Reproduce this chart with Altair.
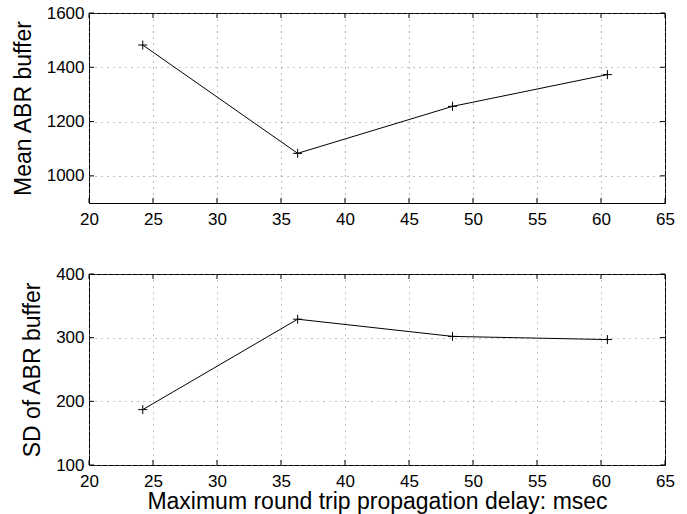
import altair as alt
import pandas as pd

delay = [24.2, 36.3, 48.4, 60.5]
mean_buf = [1482, 1083, 1256, 1373]
sd_buf = [187, 329, 302, 297]
x_ticks = [20, 25, 30, 35, 40, 45, 50, 55, 60, 65]
mean_ticks = [1000, 1200, 1400, 1600]
sd_ticks = [100, 200, 300, 400]

W = 576
FONT = "Liberation Sans"
PLUS = "M-1,0L1,0M0,-1L0,1"
TL = 5


def panel(vals, domain, yticks, ytitle, xtitle, H):
    df = pd.DataFrame({"x": delay, "y": vals})
    xs = alt.Scale(domain=[20, 65], nice=False, zero=False)
    ys = alt.Scale(domain=domain, nice=False, zero=False)
    xaxis = alt.Axis(values=x_ticks, title=xtitle, grid=True, ticks=False,
                     domain=False, labelPadding=8, titlePadding=1,
                     labelFlush=False, format="d")
    yaxis = alt.Axis(values=yticks, title=ytitle, grid=True, ticks=False,
                     domain=False, labelPadding=5, titlePadding=11,
                     labelFlush=False, format="d")
    X = alt.X("x:Q", scale=xs, axis=xaxis)
    Y = alt.Y("y:Q", scale=ys, axis=yaxis)
    line = alt.Chart(df).mark_line(color="black", strokeWidth=1).encode(x=X, y=Y)
    pts = alt.Chart(df).mark_point(shape=PLUS, size=81, filled=False,
                                   color="black", strokeWidth=1, opacity=1).encode(x=X, y=Y)
    xt = pd.DataFrame({"x": x_ticks})
    yt = pd.DataFrame({"y": yticks})
    bt = alt.Chart(xt).mark_rule(color="black", strokeWidth=1).encode(
        x=X, y=alt.value(H), y2=alt.value(H - TL))
    tt = alt.Chart(xt).mark_rule(color="black", strokeWidth=1).encode(
        x=X, y=alt.value(0), y2=alt.value(TL))
    lt = alt.Chart(yt).mark_rule(color="black", strokeWidth=1).encode(
        y=Y, x=alt.value(0), x2=alt.value(TL))
    rt = alt.Chart(yt).mark_rule(color="black", strokeWidth=1).encode(
        y=Y, x=alt.value(W), x2=alt.value(W - TL))
    return alt.layer(line, pts, bt, tt, lt, rt).properties(width=W, height=H)


top = panel(mean_buf, [900, 1600], mean_ticks, "Mean ABR buffer", None, 190)
bot = panel(sd_buf, [100, 400], sd_ticks, "SD of ABR buffer",
            "Maximum round trip propagation delay: msec", 191)

chart = alt.vconcat(top, bot, spacing=71, bounds="flush").properties(
    padding={"left": 11, "top": 3, "right": 5, "bottom": 0},
    background="white",
).configure_view(stroke="black", strokeWidth=1).configure_axis(
    labelFont=FONT, labelFontSize=17, labelColor="black",
    titleFont=FONT, titleFontSize=23, titleColor="black", titleFontWeight="normal",
    gridColor="#808080", gridDash=[1, 5], gridWidth=1, gridOpacity=1,
)

chart.save("out.html", embed_options={"renderer": "svg", "actions": False})
